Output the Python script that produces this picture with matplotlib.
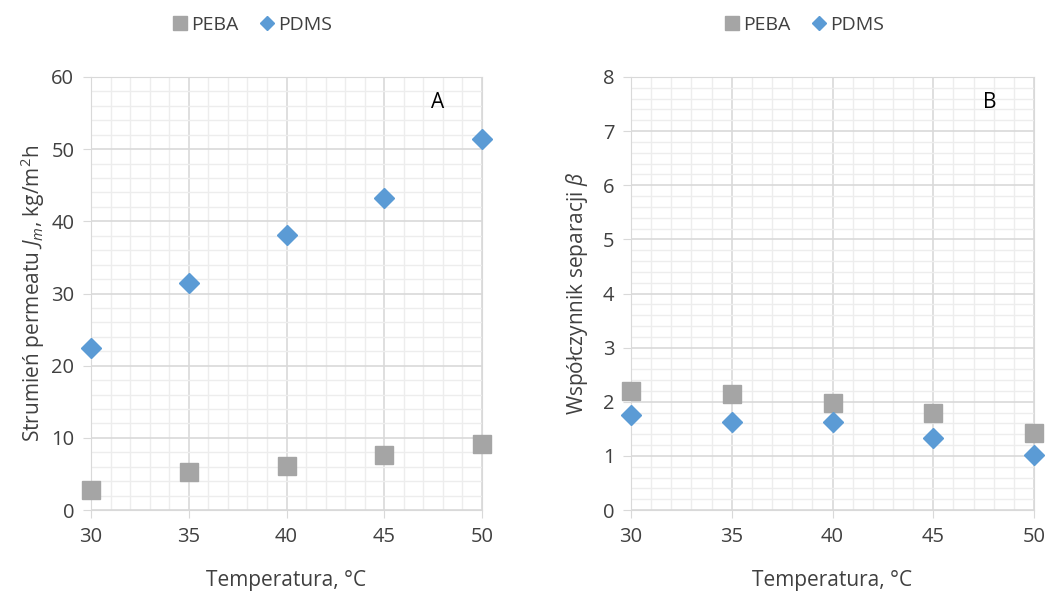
import matplotlib.pyplot as plt
from matplotlib.ticker import MultipleLocator

plt.rcParams['font.family'] = ['Open Sans', 'DejaVu Sans']
plt.rcParams['mathtext.fontset'] = 'custom'
plt.rcParams['mathtext.rm'] = 'Open Sans'
plt.rcParams['mathtext.it'] = 'Open Sans:italic'

# data
temp = [30, 35, 40, 45, 50]
flux_peba = [2.8, 5.2, 6.1, 7.6, 9.1]
flux_pdms = [22.4, 31.5, 38.1, 43.2, 51.4]
beta_peba = [2.2, 2.15, 1.97, 1.8, 1.42]
beta_pdms = [1.75, 1.62, 1.62, 1.33, 1.02]

gray = '#a5a5a5'
blue = '#5b9bd5'
txt = '#404040'

fig = plt.figure(figsize=(10.48, 5.91), dpi=100)
ax1 = fig.add_axes([91/1048, 1-510/591, 391/1048, 433/591])
ax2 = fig.add_axes([631/1048, 1-510/591, 403/1048, 433/591])


def style(ax, ymax, ymaj, ymin):
    ax.set_xlim(30, 50)
    ax.set_ylim(0, ymax)
    ax.xaxis.set_major_locator(MultipleLocator(5))
    ax.xaxis.set_minor_locator(MultipleLocator(1))
    ax.yaxis.set_major_locator(MultipleLocator(ymaj))
    ax.yaxis.set_minor_locator(MultipleLocator(ymin))
    ax.grid(which='minor', color='#ededed', lw=1.0)
    ax.grid(which='major', color='#d9d9d9', lw=1.2)
    ax.set_axisbelow(True)
    for s in ax.spines.values():
        s.set_color('#d9d9d9')
    ax.tick_params(which='major', direction='out', length=6, color='#d9d9d9',
                   labelsize=14.5, labelcolor=txt, pad=6)
    ax.tick_params(which='minor', length=0)
    ax.set_xlabel('Temperatura, °C', fontsize=15, color=txt, labelpad=17)


# panel A
ax1.plot(temp, flux_peba, 's', color=gray, ms=12.5, clip_on=False, label='PEBA', zorder=3)
ax1.plot(temp, flux_pdms, 'D', color=blue, ms=10, clip_on=False, label='PDMS', zorder=3)
style(ax1, 60, 10, 2)
ax1.set_ylabel(r'Strumień permeatu $J_m$, kg/m$^2$h', fontsize=15, color=txt, labelpad=3)
ax1.text(0.887, 0.94, 'A', transform=ax1.transAxes, fontsize=15, ha='center', va='center',
         color='black')
ax1.legend(loc='center', bbox_to_anchor=(251/1048, 1-25/591), bbox_transform=fig.transFigure,
           ncol=2, frameon=False, fontsize=14, labelcolor=txt, handletextpad=0.05,
           columnspacing=1.0, markerscale=0.75, handlelength=1.0)

# panel B
ax2.plot(temp, beta_peba, 's', color=gray, ms=12.5, clip_on=False, label='PEBA', zorder=3)
ax2.plot(temp, beta_pdms, 'D', color=blue, ms=10, clip_on=False, label='PDMS', zorder=3)
style(ax2, 8, 1, 0.2)
ax2.set_ylabel(r'Współczynnik separacji $\beta$', fontsize=15, color=txt, labelpad=9)
ax2.text(0.89, 0.94, 'B', transform=ax2.transAxes, fontsize=15, ha='center', va='center',
         color='black')
ax2.legend(loc='center', bbox_to_anchor=(803/1048, 1-25/591), bbox_transform=fig.transFigure,
           ncol=2, frameon=False, fontsize=14, labelcolor=txt, handletextpad=0.05,
           columnspacing=1.0, markerscale=0.75, handlelength=1.0)

fig.savefig('out.png', dpi=100)
